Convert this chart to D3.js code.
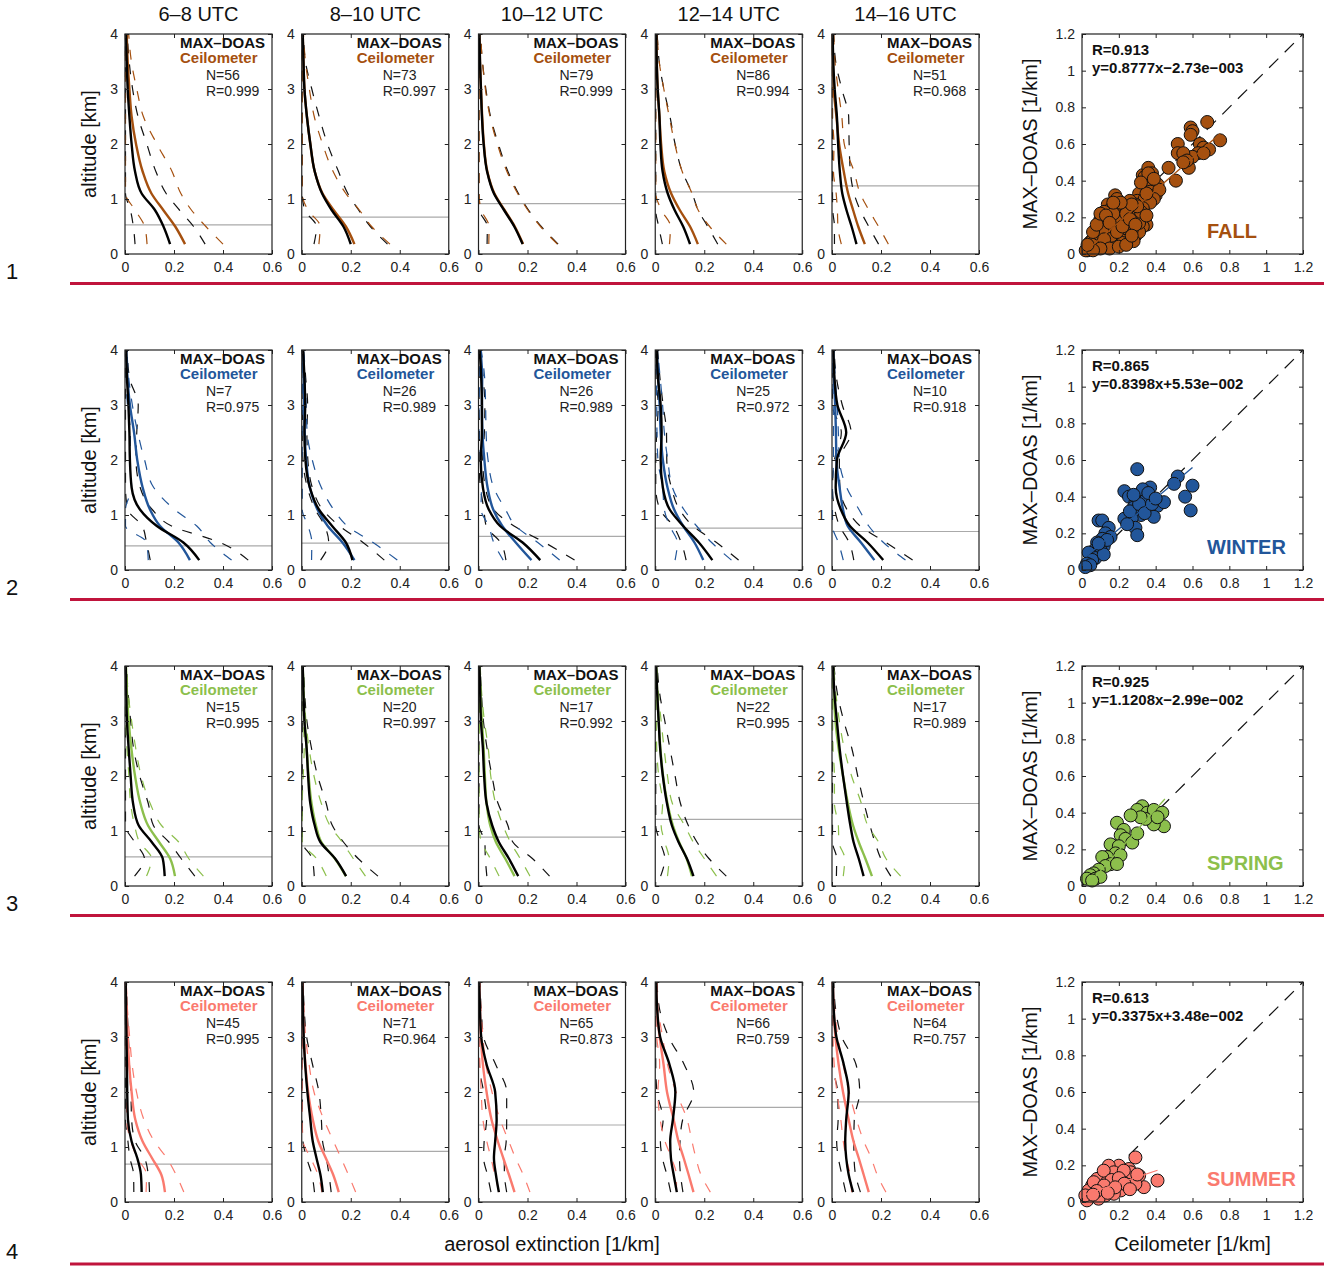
<!DOCTYPE html>
<meta charset="utf-8">
<style>
body{margin:0;background:#fff;}
text{font-family:"Liberation Sans",Arial,sans-serif;}
</style>
<body>
<script src="https://cdn.jsdelivr.net/npm/d3@7"></script>
<script>
// ---- data ----
var altitudes = [0.18,0.5,0.8,1.1,1.5,2.0,2.5,3.0,3.5,4.0];
var timeSlots = ["6–8 UTC","8–10 UTC","10–12 UTC","12–14 UTC","14–16 UTC"];
var seasons = ["FALL","WINTER","SPRING","SUMMER"];
var seasonColors = ["#a5500f","#22569a","#8cbf4c","#fa7a6e"];
var sampleN = [[56,73,79,86,51],[7,26,26,25,10],[15,20,17,22,17],[45,71,65,66,64]];
var profileR = [["0.999","0.997","0.999","0.994","0.968"],["0.975","0.989","0.989","0.972","0.918"],
                ["0.995","0.997","0.992","0.995","0.989"],["0.995","0.964","0.873","0.759","0.757"]];
var blhHeight = [[0.53,0.67,0.915,1.13,1.24],[0.44,0.49,0.61,0.76,0.70],[0.53,0.73,0.89,1.21,1.50],[0.69,0.92,1.40,1.72,1.82]];

// MAX-DOAS mean / std and ceilometer mean / std, one row per time slot, values at `altitudes`
var fallMD = [
 [0.184,0.157,0.122,0.068,0.041,0.027,0.018,0.011,0.007,0.004],
 [0.200,0.170,0.122,0.083,0.053,0.035,0.021,0.011,0.007,0.004],
 [0.180,0.146,0.104,0.063,0.035,0.021,0.014,0.010,0.006,0.004],
 [0.142,0.114,0.079,0.051,0.030,0.021,0.017,0.010,0.006,0.004],
 [0.100,0.080,0.059,0.042,0.032,0.025,0.020,0.011,0.005,0.003]];
var fallMDsd = [
 [0.143,0.123,0.100,0.100,0.085,0.062,0.035,0.020,0.010,0.005],
 [0.150,0.110,0.110,0.105,0.097,0.070,0.050,0.030,0.008,0.003],
 [0.145,0.110,0.100,0.100,0.085,0.060,0.035,0.020,0.010,0.004],
 [0.113,0.100,0.096,0.100,0.080,0.060,0.043,0.025,0.010,0.004],
 [0.090,0.070,0.056,0.048,0.043,0.045,0.048,0.029,0.010,0.004]];
var fallCE = [
 [0.245,0.205,0.156,0.108,0.072,0.045,0.027,0.018,0.011,0.007],
 [0.215,0.180,0.130,0.085,0.053,0.035,0.021,0.011,0.007,0.004],
 [0.182,0.148,0.106,0.065,0.036,0.022,0.015,0.010,0.006,0.004],
 [0.174,0.142,0.100,0.065,0.037,0.024,0.017,0.010,0.006,0.004],
 [0.134,0.107,0.086,0.066,0.048,0.029,0.018,0.007,0.004,0.003]];
var fallCEsd = [
 [0.155,0.125,0.115,0.120,0.120,0.085,0.048,0.030,0.015,0.008],
 [0.145,0.105,0.105,0.095,0.075,0.050,0.030,0.020,0.008,0.003],
 [0.140,0.105,0.095,0.095,0.080,0.055,0.032,0.018,0.010,0.004],
 [0.116,0.080,0.075,0.085,0.073,0.056,0.040,0.025,0.010,0.004],
 [0.096,0.083,0.064,0.049,0.042,0.021,0.022,0.018,0.008,0.004]];

var winterMD = [
 [0.303,0.238,0.130,0.061,0.027,0.020,0.018,0.014,0.008,0.005],
 [0.207,0.180,0.124,0.070,0.033,0.015,0.011,0.014,0.011,0.005],
 [0.252,0.180,0.088,0.042,0.018,0.009,0.014,0.014,0.011,0.005],
 [0.233,0.178,0.114,0.059,0.031,0.022,0.026,0.022,0.011,0.006],
 [0.209,0.145,0.073,0.036,0.015,0.020,0.058,0.022,0.010,0.006]];
var winterMDsd = [
 [0.200,0.150,0.060,0.050,0.035,0.025,0.030,0.040,0.010,0.004],
 [0.130,0.070,0.030,0.015,0.010,0.010,0.010,0.010,0.005,0.003],
 [0.140,0.090,0.057,0.020,0.010,0.008,0.010,0.012,0.008,0.003],
 [0.107,0.072,0.040,0.040,0.035,0.025,0.020,0.010,0.008,0.004],
 [0.120,0.075,0.042,0.025,0.017,0.010,0.020,0.020,0.008,0.003]];
var winterCE = [
 [0.265,0.218,0.143,0.102,0.072,0.050,0.037,0.020,0.010,0.005],
 [0.215,0.166,0.106,0.064,0.033,0.018,0.012,0.010,0.008,0.005],
 [0.216,0.152,0.097,0.060,0.037,0.024,0.016,0.014,0.015,0.008],
 [0.196,0.160,0.114,0.077,0.050,0.031,0.022,0.018,0.012,0.006],
 [0.173,0.118,0.064,0.045,0.031,0.018,0.016,0.013,0.008,0.005]];
var winterCEsd = [
 [0.170,0.130,0.150,0.100,0.045,0.030,0.015,0.010,0.005,0.003],
 [0.175,0.125,0.080,0.066,0.047,0.025,0.010,0.008,0.005,0.003],
 [0.115,0.090,0.055,0.050,0.025,0.015,0.015,0.015,0.010,0.003],
 [0.115,0.070,0.055,0.040,0.020,0.020,0.015,0.012,0.008,0.003],
 [0.127,0.092,0.086,0.065,0.029,0.012,0.010,0.008,0.005,0.003]];

var springMD = [
 [0.162,0.154,0.109,0.056,0.033,0.023,0.015,0.008,0.005,0.003],
 [0.181,0.136,0.076,0.053,0.035,0.026,0.020,0.011,0.007,0.004],
 [0.162,0.124,0.083,0.056,0.033,0.023,0.018,0.010,0.007,0.004],
 [0.156,0.129,0.095,0.068,0.048,0.031,0.020,0.014,0.008,0.004],
 [0.129,0.109,0.088,0.075,0.061,0.045,0.031,0.020,0.010,0.004]];
var springMDsd = [
 [0.123,0.075,0.070,0.060,0.062,0.037,0.020,0.015,0.008,0.003],
 [0.130,0.094,0.094,0.072,0.065,0.039,0.020,0.010,0.005,0.003],
 [0.128,0.096,0.057,0.064,0.047,0.032,0.017,0.010,0.005,0.003],
 [0.134,0.090,0.075,0.067,0.055,0.050,0.040,0.025,0.010,0.004],
 [0.111,0.090,0.087,0.080,0.070,0.060,0.050,0.028,0.012,0.004]];
var springCE = [
 [0.204,0.184,0.139,0.094,0.063,0.041,0.026,0.015,0.008,0.004],
 [0.180,0.135,0.080,0.058,0.040,0.028,0.020,0.012,0.007,0.004],
 [0.147,0.109,0.071,0.048,0.033,0.026,0.021,0.014,0.008,0.004],
 [0.150,0.128,0.097,0.072,0.050,0.032,0.021,0.014,0.008,0.004],
 [0.163,0.136,0.109,0.086,0.065,0.045,0.027,0.014,0.008,0.004]];
var springCEsd = [
 [0.116,0.076,0.080,0.055,0.040,0.025,0.018,0.012,0.005,0.002],
 [0.080,0.075,0.085,0.057,0.040,0.022,0.010,0.005,0.003,0.002],
 [0.063,0.061,0.059,0.052,0.037,0.024,0.019,0.010,0.005,0.003],
 [0.100,0.072,0.058,0.048,0.020,0.018,0.015,0.010,0.005,0.003],
 [0.117,0.084,0.081,0.060,0.055,0.035,0.023,0.016,0.008,0.003]];

var summerMD = [
 [0.068,0.065,0.050,0.027,0.012,0.009,0.008,0.006,0.004,0.003],
 [0.086,0.076,0.060,0.045,0.035,0.023,0.014,0.008,0.005,0.003],
 [0.083,0.071,0.063,0.068,0.074,0.068,0.033,0.011,0.006,0.003],
 [0.088,0.075,0.064,0.061,0.072,0.082,0.058,0.020,0.008,0.004],
 [0.086,0.068,0.058,0.054,0.058,0.068,0.048,0.018,0.007,0.004]];
var summerMDsd = [
 [0.032,0.030,0.030,0.015,0.015,0.015,0.010,0.008,0.005,0.003],
 [0.034,0.035,0.040,0.040,0.045,0.047,0.030,0.012,0.005,0.003],
 [0.032,0.035,0.042,0.045,0.041,0.047,0.037,0.010,0.005,0.003],
 [0.025,0.028,0.035,0.040,0.040,0.075,0.060,0.035,0.010,0.003],
 [0.030,0.028,0.032,0.035,0.033,0.045,0.050,0.022,0.008,0.003]];
var summerCE = [
 [0.163,0.148,0.110,0.072,0.042,0.027,0.017,0.011,0.006,0.003],
 [0.151,0.128,0.098,0.068,0.045,0.026,0.015,0.008,0.005,0.003],
 [0.147,0.124,0.101,0.079,0.053,0.033,0.018,0.010,0.006,0.003],
 [0.156,0.136,0.116,0.095,0.075,0.048,0.034,0.018,0.007,0.004],
 [0.150,0.129,0.109,0.088,0.068,0.045,0.027,0.014,0.007,0.003]];
var summerCEsd = [
 [0.077,0.060,0.060,0.048,0.035,0.020,0.012,0.008,0.004,0.002],
 [0.069,0.062,0.062,0.062,0.045,0.024,0.015,0.008,0.004,0.002],
 [0.063,0.058,0.050,0.045,0.035,0.022,0.012,0.008,0.004,0.002],
 [0.069,0.050,0.050,0.055,0.055,0.037,0.016,0.012,0.005,0.002],
 [0.070,0.055,0.051,0.042,0.032,0.025,0.018,0.010,0.004,0.002]];

// scatter: [ceilometer, MAX-DOAS]
var fallPoints = [[0.59,0.69],[0.6,0.67],[0.59,0.65],[0.68,0.72],[0.64,0.6],[0.66,0.58],[0.69,0.57],[0.75,0.62],
 [0.63,0.55],[0.6,0.53],[0.66,0.55],[0.58,0.47],[0.52,0.6],[0.52,0.55],[0.55,0.55],[0.57,0.51],[0.51,0.4],[0.47,0.47],[0.55,0.5],
 [0.33,0.43],[0.36,0.47],[0.38,0.44],[0.34,0.42],[0.36,0.4],[0.38,0.38],[0.41,0.38],[0.33,0.37],[0.35,0.36],[0.37,0.34],
 [0.4,0.32],[0.42,0.35],[0.39,0.3],[0.31,0.33],[0.3,0.29],[0.34,0.3],[0.37,0.28],[0.29,0.27],
 [0.18,0.32],[0.19,0.3],[0.14,0.27],[0.16,0.25],[0.12,0.23],[0.2,0.22],[0.22,0.25],[0.25,0.21],[0.27,0.24],[0.28,0.2],
 [0.3,0.22],[0.32,0.2],[0.34,0.18],[0.35,0.16],[0.33,0.15],[0.3,0.14],[0.27,0.16],[0.24,0.17],[0.21,0.18],[0.18,0.19],
 [0.15,0.2],[0.13,0.18],[0.11,0.16],[0.1,0.19],[0.09,0.14],[0.12,0.12],[0.15,0.13],[0.17,0.15],[0.2,0.14],[0.23,0.12],
 [0.26,0.11],[0.29,0.1],[0.31,0.12],[0.25,0.08],[0.21,0.1],[0.18,0.09],[0.14,0.08],[0.11,0.1],[0.08,0.09],[0.07,0.07],
 [0.09,0.05],[0.06,0.05],[0.05,0.04],[0.04,0.03],[0.03,0.02],[0.05,0.07],[0.07,0.1],[0.1,0.06],[0.13,0.06],[0.16,0.05],
 [0.19,0.07],[0.22,0.06],[0.12,0.04],[0.08,0.03],[0.02,0.02],[0.04,0.06],[0.06,0.08],[0.28,0.07],[0.16,0.1],[0.2,0.2],
 [0.23,0.27],[0.26,0.29],[0.14,0.15],[0.17,0.22],[0.27,0.13],[0.31,0.17],[0.24,0.14],[0.09,0.11],[0.11,0.13],[0.33,0.25],
 [0.06,0.12],[0.08,0.16],[0.1,0.22],[0.13,0.21],[0.15,0.17],[0.19,0.12],[0.22,0.15],[0.24,0.22],[0.26,0.19],[0.29,0.16],
 [0.32,0.23],[0.35,0.21],[0.3,0.26],[0.27,0.27],[0.21,0.28],[0.17,0.28],[0.12,0.08],[0.15,0.03],[0.2,0.04],[0.24,0.05],
 [0.27,0.1],[0.1,0.03],[0.06,0.02],[0.03,0.05],[0.36,0.44],[0.39,0.41],[0.35,0.33],[0.32,0.39]];
var winterPoints = [[0.3,0.55],[0.52,0.51],[0.5,0.47],[0.6,0.46],[0.56,0.4],[0.59,0.325],[0.23,0.43],[0.255,0.4],
 [0.32,0.42],[0.37,0.45],[0.36,0.38],[0.29,0.37],[0.335,0.34],[0.41,0.35],[0.445,0.37],[0.39,0.29],[0.32,0.3],[0.27,0.28],
 [0.23,0.28],[0.29,0.23],[0.3,0.19],[0.245,0.25],[0.345,0.38],[0.28,0.34],[0.33,0.44],[0.09,0.27],[0.11,0.27],[0.145,0.23],
 [0.127,0.2],[0.155,0.18],[0.11,0.17],[0.082,0.15],[0.118,0.13],[0.1,0.11],[0.064,0.105],[0.045,0.085],[0.036,0.095],
 [0.073,0.065],[0.055,0.055],[0.027,0.035],[0.045,0.026],[0.018,0.016],[0.118,0.085],[0.136,0.164],[0.09,0.144],
 [0.26,0.32],[0.31,0.36],[0.34,0.31],[0.38,0.36],[0.28,0.41],[0.36,0.42],[0.4,0.39]];
var springPoints = [[0.327,0.435],[0.3,0.415],[0.355,0.4],[0.39,0.415],[0.436,0.4],[0.445,0.326],[0.39,0.336],[0.345,0.366],
 [0.318,0.375],[0.264,0.385],[0.41,0.375],[0.19,0.345],[0.227,0.306],[0.21,0.277],[0.236,0.257],[0.273,0.237],[0.3,0.287],
 [0.173,0.217],[0.155,0.227],[0.2,0.217],[0.182,0.178],[0.209,0.168],[0.136,0.158],[0.11,0.158],[0.155,0.119],[0.127,0.109],
 [0.091,0.089],[0.064,0.069],[0.045,0.059],[0.027,0.04],[0.073,0.04],[0.1,0.05],[0.19,0.12],[0.055,0.03]];
var summerPoints = [[0.29,0.243],[0.41,0.117],[0.336,0.081],[0.2,0.198],[0.145,0.198],[0.255,0.18],[0.31,0.144],[0.227,0.135],
 [0.173,0.162],[0.118,0.144],[0.082,0.126],[0.136,0.108],[0.19,0.099],[0.245,0.09],[0.055,0.09],[0.1,0.072],[0.155,0.063],
 [0.036,0.063],[0.073,0.045],[0.127,0.036],[0.045,0.027],[0.09,0.018],[0.027,0.009],[0.21,0.063],[0.264,0.126],[0.29,0.099],
 [0.145,0.081],[0.173,0.045],[0.018,0.036],[0.118,0.171],[0.064,0.108],[0.264,0.162],[0.227,0.171],
 [0.16,0.12],[0.2,0.13],[0.23,0.1],[0.12,0.09],[0.08,0.06],[0.18,0.08],[0.26,0.07],[0.3,0.15],[0.06,0.04],[0.14,0.05]];
var fitR = ["0.913","0.865","0.925","0.613"];
var fitSlope = [0.8777,0.8398,1.1208,0.3375];
var fitIntercept = [-2.73e-3,5.53e-2,-2.99e-2,3.48e-2];
var fitLabel = ["y=0.8777x−2.73e−003","y=0.8398x+5.53e−002","y=1.1208x−2.99e−002","y=0.3375x+3.48e−002"];
var fitRange = [[0.02,0.75],[0.02,0.6],[0.03,0.45],[0.0,0.41]];

var mdMean = [fallMD, winterMD, springMD, summerMD];
var mdStd  = [fallMDsd, winterMDsd, springMDsd, summerMDsd];
var ceMean = [fallCE, winterCE, springCE, summerCE];
var ceStd  = [fallCEsd, winterCEsd, springCEsd, summerCEsd];
var scatterPoints = [fallPoints, winterPoints, springPoints, summerPoints];

// ---- layout ----
var pw = 147, ph = 220, colStep = 176.75, left0 = 125, top0 = 34, rowStep = 316;
var sLeft = 1082, sw = 221;
var svg = d3.select("body").append("svg").attr("width",1324).attr("height",1268);

var x = d3.scaleLinear().domain([0,0.6]).range([0,pw]);
var y = d3.scaleLinear().domain([0,4]).range([ph,0]);
var sx = d3.scaleLinear().domain([0,1.2]).range([0,sw]);
var sy = d3.scaleLinear().domain([0,1.2]).range([ph,0]);
var fmt = function(d){ return String(+d.toFixed(1)); };

var line = d3.line().x(d=>x(d[1])).y(d=>y(d[0])).curve(d3.curveMonotoneY);
function prof(vals, sd, sign){
	return altitudes.map(function(a,i){
		var v = sd ? vals[i] + sign*sd[i] : vals[i];
		return [a, Math.max(0.002, v)];
	});
}
function styleAxis(sel){
	sel.attr("font-size",14).attr("font-family","'Liberation Sans',Arial,sans-serif");
	sel.select(".domain").remove();
	sel.selectAll(".tick line").attr("stroke","#222");
	sel.selectAll(".tick text").attr("fill","#222");
}
function frame(g, xs, ys, xt, yt, w){
	g.append("g").attr("transform","translate(0,"+ph+")")
		.call(d3.axisBottom(xs).tickValues(xt).tickSize(-4).tickPadding(8).tickFormat(fmt)).call(styleAxis);
	g.append("g").call(d3.axisTop(xs).tickValues(xt).tickSize(-4).tickFormat("")).call(styleAxis);
	g.append("g").call(d3.axisLeft(ys).tickValues(yt).tickSize(-4).tickPadding(7).tickFormat(fmt)).call(styleAxis);
	g.append("g").attr("transform","translate("+w+",0)")
		.call(d3.axisRight(ys).tickValues(yt).tickSize(-4).tickFormat("")).call(styleAxis);
	g.append("rect").attr("width",w).attr("height",ph).attr("fill","none").attr("stroke","#222").attr("stroke-width",1.2);
}

// column titles
timeSlots.forEach(function(t,c){
	svg.append("text").attr("x",left0+c*colStep+pw/2).attr("y",21).attr("text-anchor","middle")
		.attr("font-size",20).attr("fill","#111").text(t);
});

seasons.forEach(function(season,r){
	var col = seasonColors[r];
	var top = top0 + r*rowStep;

	timeSlots.forEach(function(t,c){
		var g = svg.append("g").attr("transform","translate("+(left0+c*colStep)+","+top+")");
		// boundary layer height
		g.append("line").attr("x1",0).attr("x2",pw).attr("y1",y(blhHeight[r][c])).attr("y2",y(blhHeight[r][c]))
			.attr("stroke","#aaa").attr("stroke-width",1.2);
		var dashed = [
			[prof(mdMean[r][c],mdStd[r][c],-1),"#111"],[prof(mdMean[r][c],mdStd[r][c],1),"#111"],
			[prof(ceMean[r][c],ceStd[r][c],-1),col],[prof(ceMean[r][c],ceStd[r][c],1),col]];
		dashed.forEach(function(d){
			g.append("path").attr("d",line(d[0])).attr("fill","none").attr("stroke",d[1])
				.attr("stroke-width",1.2).attr("stroke-dasharray","10,11");
		});
		g.append("path").attr("d",line(prof(ceMean[r][c]))).attr("fill","none").attr("stroke",col).attr("stroke-width",2.4);
		g.append("path").attr("d",line(prof(mdMean[r][c]))).attr("fill","none").attr("stroke","#000").attr("stroke-width",2.4);

		frame(g, x, y, [0,0.2,0.4,0.6], [0,1,2,3,4], pw);

		g.append("text").attr("x",55).attr("y",14).attr("font-size",15).attr("font-weight","bold").attr("fill","#111").text("MAX–DOAS");
		g.append("text").attr("x",55).attr("y",29).attr("font-size",15).attr("font-weight","bold").attr("fill",col).text("Ceilometer");
		g.append("text").attr("x",81).attr("y",46).attr("font-size",14).attr("fill","#222").text("N="+sampleN[r][c]);
		g.append("text").attr("x",81).attr("y",62).attr("font-size",14).attr("fill","#222").text("R="+profileR[r][c]);
	});

	// y label
	svg.append("text").attr("transform","translate(96,"+(top+ph/2)+") rotate(-90)").attr("text-anchor","middle")
		.attr("font-size",20).attr("fill","#111").text("altitude [km]");

	// scatter
	var sg = svg.append("g").attr("transform","translate("+sLeft+","+top+")");
	sg.append("line").attr("x1",sx(0)).attr("y1",sy(0)).attr("x2",sx(1.2)).attr("y2",sy(1.2))
		.attr("stroke","#111").attr("stroke-width",1.2).attr("stroke-dasharray","13,9");
	sg.selectAll("circle").data(scatterPoints[r]).join("circle")
		.attr("cx",d=>sx(d[0])).attr("cy",d=>sy(d[1])).attr("r",6.5)
		.attr("fill",col).attr("stroke","#111").attr("stroke-width",1);
	var fr = fitRange[r];
	sg.append("line").attr("x1",sx(fr[0])).attr("y1",sy(fitSlope[r]*fr[0]+fitIntercept[r]))
		.attr("x2",sx(fr[1])).attr("y2",sy(fitSlope[r]*fr[1]+fitIntercept[r]))
		.attr("stroke",col).attr("stroke-width",1.3);
	frame(sg, sx, sy, [0,0.2,0.4,0.6,0.8,1,1.2], [0,0.2,0.4,0.6,0.8,1,1.2], sw);
	sg.append("text").attr("x",10).attr("y",21).attr("font-size",15).attr("font-weight","bold").attr("fill","#111").text("R="+fitR[r]);
	sg.append("text").attr("x",10).attr("y",39).attr("font-size",15).attr("font-weight","bold").attr("fill","#111").text(fitLabel[r]);
	sg.append("text").attr("x",125).attr("y",204).attr("font-size",20).attr("font-weight","bold").attr("fill",col).text(season);
	svg.append("text").attr("transform","translate(1037,"+(top+ph/2)+") rotate(-90)").attr("text-anchor","middle")
		.attr("font-size",20).attr("fill","#111").text("MAX–DOAS [1/km]");

	// row number and separator
	var sep = r < 3 ? top + 249.5 : 1264;
	svg.append("text").attr("x",12).attr("y",sep-5).attr("text-anchor","middle").attr("font-size",22).attr("fill","#111").text(r+1);
	svg.append("line").attr("x1",70).attr("x2",1324).attr("y1",sep).attr("y2",sep).attr("stroke","#c0143c").attr("stroke-width",3);
});

svg.append("text").attr("x",552).attr("y",1251).attr("text-anchor","middle").attr("font-size",20).attr("fill","#111").text("aerosol extinction [1/km]");
svg.append("text").attr("x",sLeft+sw/2).attr("y",1251).attr("text-anchor","middle").attr("font-size",20).attr("fill","#111").text("Ceilometer [1/km]");
</script>
</body>
